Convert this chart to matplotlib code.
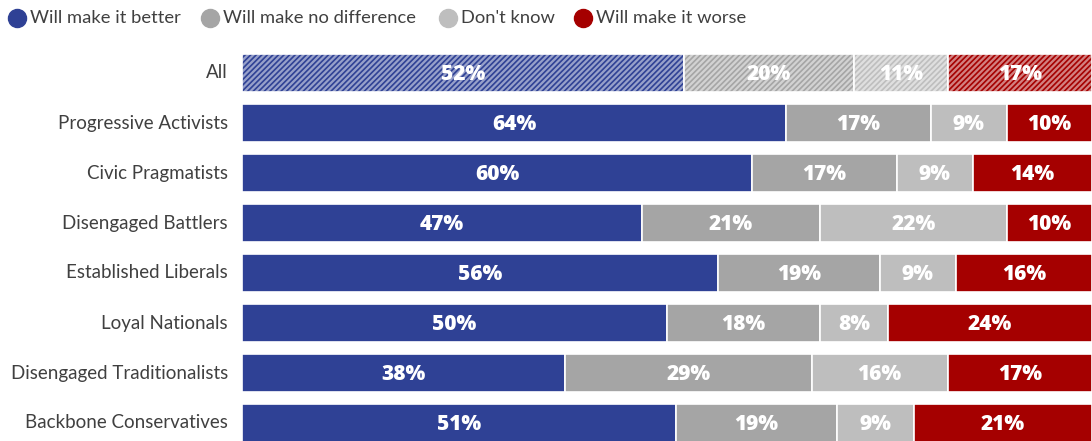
import matplotlib
matplotlib.use("Agg")
import matplotlib.pyplot as plt
from matplotlib.lines import Line2D
from matplotlib.colors import to_rgb
import numpy as np

categories = ["All", "Progressive Activists", "Civic Pragmatists", "Disengaged Battlers",
              "Established Liberals", "Loyal Nationals", "Disengaged Traditionalists",
              "Backbone Conservatives"]
series_names = ["Will make it better", "Will make no difference", "Don't know", "Will make it worse"]
better = [52, 64, 60, 47, 56, 50, 38, 51]
no_diff = [20, 17, 17, 21, 19, 18, 29, 19]
dont_know = [11, 9, 9, 22, 9, 8, 16, 9]
worse = [17, 10, 14, 10, 16, 24, 17, 21]
colors = ["#2F4195", "#A5A5A5", "#BEBEBE", "#A50000"]

plt.rcParams["font.family"] = ["Lato", "DejaVu Sans"]
plt.rcParams["hatch.linewidth"] = 1.2

fig = plt.figure(figsize=(10.92, 4.41), dpi=100)
W, H = 1092, 441
ax = fig.add_axes([242 / W, 0, 850 / W, 393 / H])

series = [better, no_diff, dont_know, worse]
y = np.arange(len(categories))
bh = 0.76

def lighten(c, f):
    r, g, b = to_rgb(c)
    return (r + (1 - r) * f, g + (1 - g) * f, b + (1 - b) * f)

left = np.zeros(len(categories))
for s, vals in enumerate(series):
    vals = np.array(vals, dtype=float)
    for i in range(len(categories)):
        if i == 0:
            ax.barh(y[i], vals[i], left=left[i], height=bh,
                    facecolor=lighten(colors[s], 0.5), edgecolor=colors[s],
                    hatch="//////", linewidth=0)
            ax.barh(y[i], vals[i], left=left[i], height=bh, fill=False,
                    edgecolor="white", linewidth=1.2)
        else:
            ax.barh(y[i], vals[i], left=left[i], height=bh, color=colors[s],
                    edgecolor="white", linewidth=1.2)
        ax.text(left[i] + vals[i] / 2, y[i] + 0.02, f"{int(vals[i])}%", ha="center", va="center",
                color="white", fontsize=15, fontweight="heavy",
                family=["Open Sans", "DejaVu Sans"])
    left += vals

ax.set_xlim(0, 100)
ax.set_ylim(7.36, -0.5)
ax.axis("off")

for i, cat in enumerate(categories):
    ax.text(-1.65, y[i], cat, ha="right", va="center", color="#404040", fontsize=13.5)

# legend across the top
legend_x = [17, 210, 448, 583]
for name, col, lx in zip(series_names, colors, legend_x):
    fig.add_artist(Line2D([lx / W], [1 - 18 / H], marker="o", markersize=13,
                          markerfacecolor=col, markeredgecolor=col, linestyle="none",
                          transform=fig.transFigure))
    fig.text((lx + 13) / W, 1 - 18 / H, name, ha="left", va="center",
             color="#404040", fontsize=13.2)

fig.savefig("out.png", dpi=100)
